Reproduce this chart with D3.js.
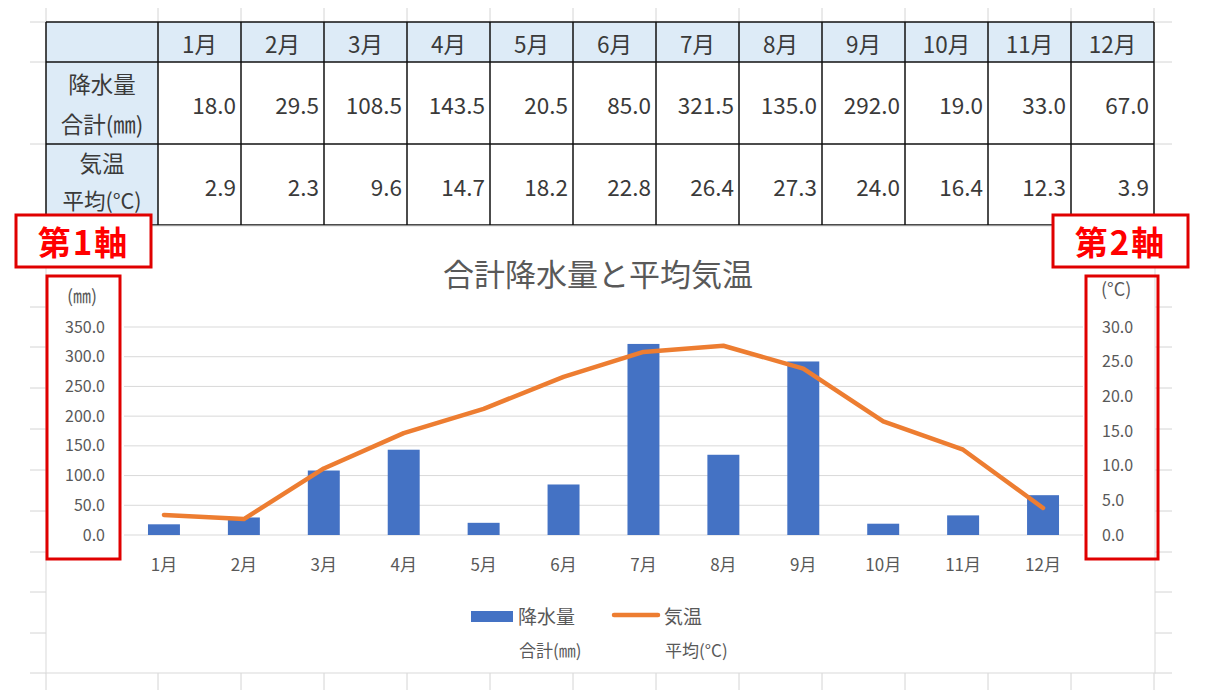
<!DOCTYPE html>
<html><head><meta charset="utf-8">
<script src="https://cdn.jsdelivr.net/npm/d3@7"></script>
<style>
html,body{margin:0;padding:0;background:#fff;}
svg{display:block;font-family:"Noto Sans CJK JP","Noto Sans",sans-serif;}
</style></head>
<body>
<svg id="c" width="1205" height="695"></svg>
<script>
const months = ["1月","2月","3月","4月","5月","6月","7月","8月","9月","10月","11月","12月"];
const rain = [18.0,29.5,108.5,143.5,20.5,85.0,321.5,135.0,292.0,19.0,33.0,67.0];
const temp = [2.9,2.3,9.6,14.7,18.2,22.8,26.4,27.3,24.0,16.4,12.3,3.9];
const leftTicks = [0,50,100,150,200,250,300,350];
const rightTicks = [0,5,10,15,20,25,30];
const rowLabels = [["降水量","合計(㎜)"],["気温","平均(°C)"]];
const title = "合計降水量と平均気温";
const seriesNames = [["降水量","合計(㎜)"],["気温","平均(°C)"]];

const svg = d3.select("#c");
const grid = "#d4d4d4";
const textGray = "#595959";

// spreadsheet background grid
const colX = [46,158]; for(let i=1;i<=12;i++) colX.push(158+83*i);
const rowY = [22,62,144,225,266,307,347,388,429,470,511,552,592,633,673];
const bg = svg.append("g");
colX.forEach(x=>{
  bg.append("line").attr("x1",x).attr("x2",x).attr("y1",8).attr("y2",22).attr("stroke",grid);
  bg.append("line").attr("x1",x).attr("x2",x).attr("y1",673).attr("y2",690).attr("stroke",grid);
});
rowY.forEach(y=>{
  bg.append("line").attr("x1",30).attr("x2",46).attr("y1",y).attr("y2",y).attr("stroke",grid);
  bg.append("line").attr("x1",1155).attr("x2",1172).attr("y1",y).attr("y2",y).attr("stroke",grid);
});

// table
const tb = svg.append("g");
tb.append("rect").attr("x",46).attr("y",22).attr("width",1154-46).attr("height",40).attr("fill","#ddebf7");
tb.append("rect").attr("x",46).attr("y",62).attr("width",112).attr("height",163).attr("fill","#ddebf7");
const tfont = 22.5;
const tcol = "#3a3a3a";
months.forEach((m,i)=>{
  const x0 = colX[i+1], x1 = colX[i+2];
  tb.append("text").attr("x",(x0+x1)/2).attr("y",43).attr("dominant-baseline","central")
    .attr("text-anchor","middle").attr("font-size",tfont).attr("fill",tcol).text(m);
  tb.append("text").attr("x",x1-5).attr("y",104).attr("dominant-baseline","central")
    .attr("text-anchor","end").attr("font-size",tfont).attr("fill",tcol).text(rain[i].toFixed(1));
  tb.append("text").attr("x",x1-5).attr("y",186).attr("dominant-baseline","central")
    .attr("text-anchor","end").attr("font-size",tfont).attr("fill",tcol).text(temp[i].toFixed(1));
});
rowLabels.forEach((lab,r)=>{
  const yc = r===0?[83,123]:[162,199];
  lab.forEach((t,k)=>{
    tb.append("text").attr("x",102).attr("y",yc[k]).attr("dominant-baseline","central")
      .attr("text-anchor","middle").attr("font-size",r===1&&k===1?21.5:tfont).attr("fill",tcol).text(t);
  });
});
[22,62,144,225].forEach(y=>tb.append("line").attr("x1",46).attr("x2",1154).attr("y1",y).attr("y2",y).attr("stroke","#111").attr("stroke-width",1.5));
colX.forEach(x=>tb.append("line").attr("x1",x).attr("x2",x).attr("y1",22).attr("y2",225).attr("stroke","#111").attr("stroke-width",1.5));

// chart area
const ch = svg.append("g");
ch.append("rect").attr("x",46).attr("y",226).attr("width",1109).attr("height",447).attr("fill","#fff").attr("stroke","#d9d9d9");

const x = d3.scaleBand().domain(months).range([124,1083]).paddingInner(0.6).paddingOuter(0.3);
const yL = d3.scaleLinear().domain([0,350]).range([535,327]);
const yR = d3.scaleLinear().domain([0,30]).range([535,327]);

// gridlines
ch.append("g").selectAll("line").data(leftTicks).join("line")
  .attr("x1",124).attr("x2",1083).attr("y1",d=>yL(d)).attr("y2",d=>yL(d))
  .attr("stroke","#d9d9d9").attr("stroke-width",1);

// axes
const fmt = d3.format(".1f");
const aL = ch.append("g").attr("transform","translate(124,0)")
  .call(d3.axisLeft(yL).tickValues(leftTicks).tickFormat(fmt).tickSize(0).tickPadding(19));
const aR = ch.append("g").attr("transform","translate(1083,0)")
  .call(d3.axisRight(yR).tickValues(rightTicks).tickFormat(fmt).tickSize(0).tickPadding(19));
const aB = ch.append("g").attr("transform","translate(0,535)")
  .call(d3.axisBottom(x).tickSize(0).tickPadding(24));
[aL,aR,aB].forEach(a=>{
  a.select(".domain").remove();
  a.selectAll("text").attr("font-size",16).attr("fill",textGray)
   .attr("font-family",'"Noto Sans CJK JP","Noto Sans",sans-serif');
});
aB.selectAll("text").attr("font-size",17);

// bars
ch.append("g").selectAll("rect").data(rain).join("rect")
  .attr("x",(d,i)=>x(months[i])).attr("width",x.bandwidth())
  .attr("y",d=>yL(d)).attr("height",d=>yL(0)-yL(d)).attr("fill","#4472c4");

// line
const line = d3.line().x((d,i)=>x(months[i])+x.bandwidth()/2).y(d=>yR(d));
ch.append("path").datum(temp).attr("d",line).attr("fill","none")
  .attr("stroke","#ed7d31").attr("stroke-width",4.5).attr("stroke-linejoin","round").attr("stroke-linecap","round");

// title
ch.append("text").attr("x",598).attr("y",272).attr("dominant-baseline","central").attr("text-anchor","middle")
  .attr("font-size",31).attr("fill",textGray).text(title);

// axis unit labels
ch.append("text").attr("x",82).attr("y",295).attr("dominant-baseline","central").attr("text-anchor","middle")
  .attr("font-size",18).attr("fill",textGray).text("(㎜)");
ch.append("text").attr("x",1101).attr("y",288).attr("dominant-baseline","central").attr("text-anchor","start")
  .attr("font-size",18).attr("fill",textGray).text("(°C)");

// legend
const lg = ch.append("g");
lg.append("rect").attr("x",471).attr("y",611).attr("width",42).attr("height",11).attr("fill","#4472c4");
lg.append("line").attr("x1",614).attr("x2",658).attr("y1",615).attr("y2",615).attr("stroke","#ed7d31").attr("stroke-width",4.5).attr("stroke-linecap","round");
const lgX=[518,664];
seriesNames.forEach((s,i)=>{
  lg.append("text").attr("x",lgX[i]).attr("y",615).attr("dominant-baseline","central")
    .attr("font-size",19).attr("fill",textGray).text(s[0]);
  lg.append("text").attr("x",lgX[i]+1).attr("y",649).attr("dominant-baseline","central")
    .attr("font-size",17).attr("fill",textGray).text(s[1]);
});

// annotations
const an = svg.append("g");
const red = "#e00000";
an.append("rect").attr("x",47).attr("y",276).attr("width",73).attr("height",283).attr("fill","none").attr("stroke",red).attr("stroke-width",3);
an.append("rect").attr("x",1086).attr("y",276).attr("width",72).attr("height",283).attr("fill","none").attr("stroke",red).attr("stroke-width",3);
[[16,"第1軸"],[1053,"第2軸"]].forEach(([bx,t])=>{
  an.append("rect").attr("x",bx).attr("y",215).attr("width",135).attr("height",52).attr("fill","#fff").attr("stroke",red).attr("stroke-width",3);
  an.append("text").attr("x",bx+67.5).attr("y",241).attr("dominant-baseline","central").attr("text-anchor","middle")
    .attr("font-size",33).attr("font-weight","bold").attr("letter-spacing",2).attr("fill","#ff0000").text(t);
});
</script>
</body></html>
